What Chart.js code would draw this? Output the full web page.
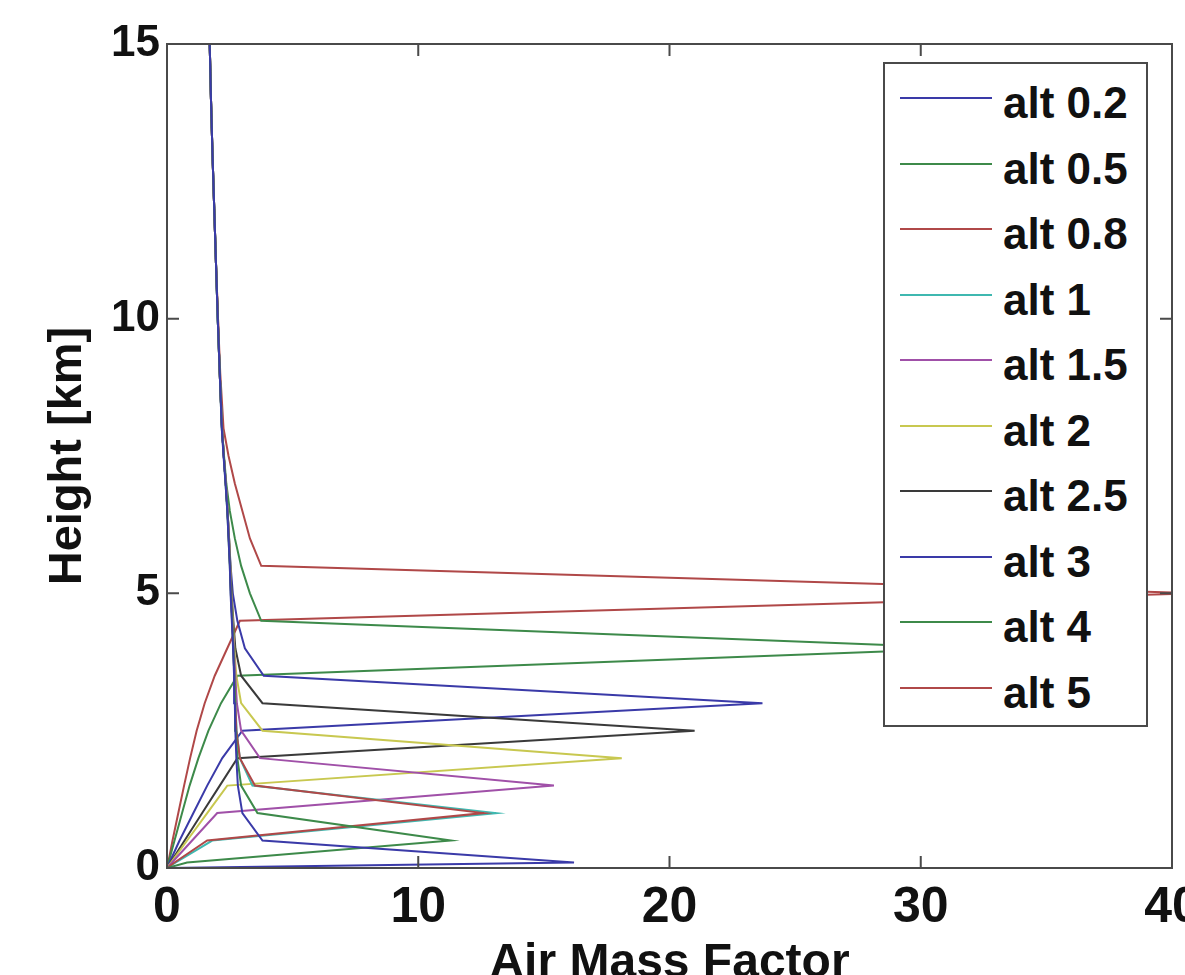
<!DOCTYPE html>
<html><head><meta charset="utf-8">
<script src="https://cdn.jsdelivr.net/npm/chart.js@4.4.1/dist/chart.umd.min.js"></script>
<style>
html,body{margin:0;padding:0;background:#fff;}
#wrap{position:relative;width:1185px;height:975px;overflow:hidden;background:#fff;}
#c{position:absolute;left:0;top:0;}
#legend{position:absolute;left:883px;top:62px;width:265px;height:665px;box-sizing:border-box;border:2px solid #4a4a4a;background:#fff;}
.sw{position:absolute;left:15px;width:92px;height:2px;}
.lb{position:absolute;left:118px;height:44px;line-height:44px;font:bold 44px 'Liberation Sans',Arial,sans-serif;color:#111;white-space:nowrap;}
</style></head>
<body><div id="wrap"><canvas id="c" width="1240" height="1000"></canvas><div id="legend"></div></div>
<script>
// Heights (km) of the model levels
const heights = [0, 0.1, 0.5, 1, 1.5, 2, 2.5, 3, 3.5, 4, 4.5, 5, 5.5, 6, 6.5, 7, 7.5, 8, 9, 10, 11, 12, 13, 14, 15];
const seriesNames = ['alt 0.2','alt 0.5','alt 0.8','alt 1','alt 1.5','alt 2','alt 2.5','alt 3','alt 4','alt 5'];
// Air mass factor per level for each instrument altitude
const alt02 = [0, 16.2, 3.8, 3.0, 2.82, 2.76, 2.72, 2.7, 2.67, 2.63, 2.58, 2.53, 2.5, 2.45, 2.4, 2.33, 2.25, 2.18, 2.1, 2.02, 1.95, 1.88, 1.81, 1.75, 1.7];
const alt05 = [0, 0.8, 11.3, 3.6, 2.95, 2.8, 2.74, 2.71, 2.68, 2.64, 2.59, 2.54, 2.5, 2.45, 2.4, 2.33, 2.26, 2.18, 2.1, 2.02, 1.95, 1.88, 1.81, 1.75, 1.7];
const alt08 = [0, 0.3, 1.6, 12.6, 3.5, 2.9, 2.76, 2.72, 2.68, 2.64, 2.6, 2.55, 2.51, 2.46, 2.41, 2.34, 2.26, 2.19, 2.1, 2.03, 1.95, 1.88, 1.81, 1.75, 1.7];
const alt1  = [0, 0.35, 1.8, 13.1, 3.4, 2.9, 2.77, 2.72, 2.68, 2.64, 2.6, 2.55, 2.51, 2.46, 2.41, 2.34, 2.26, 2.19, 2.1, 2.02, 1.95, 1.88, 1.81, 1.75, 1.7];
const alt15 = [0, 0.2, 1.0, 2.0, 15.4, 3.7, 2.95, 2.78, 2.72, 2.66, 2.6, 2.55, 2.51, 2.46, 2.41, 2.34, 2.26, 2.19, 2.1, 2.02, 1.95, 1.88, 1.81, 1.75, 1.7];
const alt2  = [0, 0.16, 0.8, 1.6, 2.4, 18.1, 3.8, 2.95, 2.76, 2.68, 2.62, 2.56, 2.52, 2.47, 2.41, 2.34, 2.26, 2.19, 2.1, 2.02, 1.95, 1.88, 1.81, 1.75, 1.7];
const alt25 = [0, 0.14, 0.7, 1.4, 2.1, 2.8, 21.0, 3.8, 2.95, 2.72, 2.64, 2.57, 2.52, 2.47, 2.41, 2.34, 2.26, 2.19, 2.1, 2.02, 1.95, 1.88, 1.81, 1.75, 1.7];
const alt3  = [0, 0.1, 0.5, 1.05, 1.6, 2.2, 3.0, 23.7, 3.85, 3.1, 2.8, 2.62, 2.53, 2.47, 2.41, 2.34, 2.26, 2.19, 2.1, 2.02, 1.95, 1.88, 1.81, 1.75, 1.7];
const alt4  = [0, 0.06, 0.3, 0.6, 0.9, 1.25, 1.65, 2.15, 2.8, 32.0, 3.75, 3.3, 2.95, 2.7, 2.5, 2.36, 2.27, 2.19, 2.1, 2.02, 1.95, 1.88, 1.81, 1.75, 1.7];
const alt5  = [0, 0.05, 0.22, 0.45, 0.68, 0.92, 1.18, 1.5, 1.9, 2.4, 2.9, 41.0, 3.75, 3.3, 3.0, 2.7, 2.45, 2.25, 2.12, 2.03, 1.95, 1.88, 1.81, 1.75, 1.7];
const seriesValues = [alt02, alt05, alt08, alt1, alt15, alt2, alt25, alt3, alt4, alt5];
const xTicks = [0, 10, 20, 30, 40];
const yTicks = [0, 5, 10, 15];
const colors = ['#3a3aa8','#3d8a4a','#b04848','#3fb8b0','#a050a8','#c8c850','#3a3a3a','#3a3aa8','#3d8a4a','#b04848'];

const datasets = seriesNames.map((name, k) => ({
  label: name,
  data: heights.map((h, i) => ({x: seriesValues[k][i], y: h})),
  borderColor: colors[k],
  backgroundColor: colors[k],
  borderWidth: 2,
  pointRadius: 0,
  showLine: true,
  tension: 0,
  fill: false
}));

const frame = {
  id: 'frame',
  afterDatasetsDraw(chart) {
    const {ctx, chartArea: {left, right, top, bottom}, scales: {x, y}} = chart;
    ctx.save();
    ctx.strokeStyle = '#4a4a4a';
    ctx.lineWidth = 2;
    ctx.strokeRect(left, top, right - left, bottom - top);
    ctx.beginPath();
    xTicks.forEach(v => { const p = x.getPixelForValue(v); ctx.moveTo(p, bottom); ctx.lineTo(p, bottom - 12); ctx.moveTo(p, top); ctx.lineTo(p, top + 12); });
    yTicks.forEach(v => { const p = y.getPixelForValue(v); ctx.moveTo(left, p); ctx.lineTo(left + 12, p); ctx.moveTo(right, p); ctx.lineTo(right - 12, p); });
    ctx.stroke();
    ctx.restore();
  }
};

const regular = "'Liberation Sans',Arial,sans-serif";

new Chart(document.getElementById('c'), {
  type: 'scatter',
  data: {datasets},
  options: {
    responsive: false,
    animation: false,
    devicePixelRatio: 1,
    layout: {padding: {left: 40, top: 44, right: 68, bottom: 0}},
    plugins: {legend: {display: false}, tooltip: {enabled: false}},
    scales: {
      x: {
        type: 'linear', min: 0, max: 40,
        afterBuildTicks: s => { s.ticks = xTicks.map(v => ({value: v})); },
        afterFit: s => { s.height = 132; },
        grid: {display: false, drawTicks: false},
        border: {display: false},
        ticks: {padding: 10, color: '#111', font: {family: regular, weight: 'bold', size: 50}, maxRotation: 0},
        title: {display: true, text: 'Air Mass Factor', color: '#111', font: {family: regular, weight: 'bold', size: 48, lineHeight: 1}, padding: {top: 0, bottom: 12}}
      },
      y: {
        type: 'linear', min: 0, max: 15,
        afterBuildTicks: s => { s.ticks = yTicks.map(v => ({value: v})); },
        afterFit: s => { s.width = 127; },
        grid: {display: false, drawTicks: false},
        border: {display: false},
        ticks: {padding: 7, color: '#111', font: {family: regular, weight: 'bold', size: 44}},
        title: {display: true, text: 'Height [km]', color: '#111', font: {family: regular, weight: 'bold', size: 47, lineHeight: 1}, padding: {top: 5, bottom: 0}}
      }
    }
  },
  plugins: [frame]
});

// Legend box
const lg = document.getElementById('legend');
seriesNames.forEach((name, i) => {
  const cy = 34 + 65.5 * i;
  const sw = document.createElement('div');
  sw.className = 'sw'; sw.style.top = (cy - 1) + 'px'; sw.style.background = colors[i];
  const lb = document.createElement('div');
  lb.className = 'lb'; lb.style.top = (cy - 20) + 'px'; lb.textContent = name;
  lg.appendChild(sw); lg.appendChild(lb);
});
</script>
</body></html>
